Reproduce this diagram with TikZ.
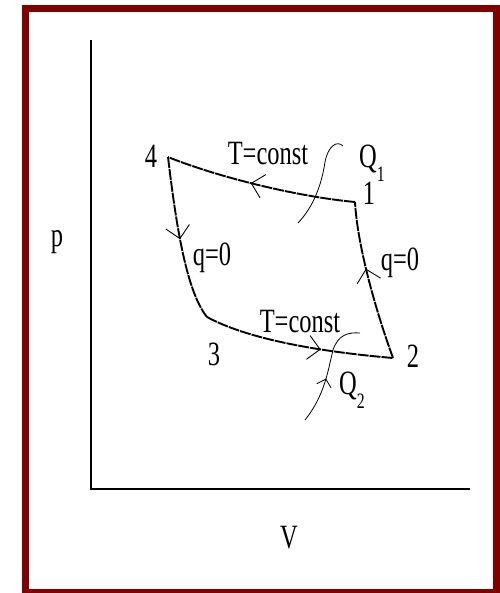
\documentclass[tikz,border=0pt]{standalone}
\usepackage{fontspec}
\setmainfont{Liberation Serif}[FakeStretch=0.72]
\usetikzlibrary{arrows.meta,decorations.markings}
\definecolor{framered}{HTML}{800000}
\newcommand{\heatsub}[1]{\raisebox{-14pt}{\fontsize{22}{22}\selectfont #1}}

\begin{document}
\begin{tikzpicture}[x=1pt,y=-1pt,>=Latex]
  \tikzstyle{axis}=[line width=1.3pt]
  \tikzstyle{process}=[line width=1.9pt,dash pattern=on 11pt off 1pt]
  \tikzstyle{heat}=[line width=0.8pt]
  \tikzstyle{lbl}=[font=\fontsize{34}{34}\selectfont,inner sep=0pt,anchor=base]
  \tikzset{midarrow/.style={postaction={decorate,decoration={markings,mark=at position #1 with {\arrow[line width=0.9pt]{Straight Barb[length=12pt,width=24pt]}}}}}}
  \tikzset{smallarrow/.style={postaction={decorate,decoration={markings,mark=at position #1 with {\arrow[line width=0.8pt]{Straight Barb[length=7pt,width=15pt]}}}}}}
  \useasboundingbox (0,0) rectangle (499,593);
  \draw[framered,line width=7pt] (25,8.5) rectangle (496.5,592.5);
  % axes
  \coordinate (ptop) at (91,40);
  \coordinate (origin) at (91,489);
  \coordinate (vend) at (470,489);
  \draw[axis] (ptop) -- (origin) -- (vend);
  \node[lbl] (plbl) at (57,247) {p};
  \node[lbl] (vlbl) at (289,548) {V};
  % states
  \coordinate (s1) at (355,202);
  \coordinate (s2) at (393,358);
  \coordinate (s3) at (207,317);
  \coordinate (s4) at (168,157);
  \node[lbl] (n1) at (369,205) {1};
  \node[lbl] (n2) at (413,367) {2};
  \node[lbl] (n3) at (214,365) {3};
  \node[lbl] (n4) at (151,168) {4};
  % processes
  \draw[process,midarrow=0.55] (s1) .. controls (300,197) and (220,178) .. (s4);
  \draw[process,midarrow=0.5] (s4) .. controls (175,215) and (185,290) .. (s3);
  \draw[process,midarrow=0.62] (s3) .. controls (240,335) and (300,350) .. (s2);
  \draw[process,midarrow=0.58] (s2) .. controls (372,300) and (357,240) .. (s1);
  \node[lbl] (thot) at (268,165) {T=const};
  \node[lbl] (tcold) at (300,332) {T=const};
  \node[lbl] (adleft) at (212,265) {q=0};
  \node[lbl] (adright) at (400,270) {q=0};
  % heat exchange
  \coordinate (q1a) at (298,223);
  \coordinate (q1b) at (343,146);
  \coordinate (q2a) at (305,420);
  \coordinate (q2b) at (360,333);
  \draw[heat] (q1a) .. controls (315,205) and (322,182) .. (325,162) .. controls (328,146) and (337,140) .. (q1b);
  \draw[heat,smallarrow=0.42] (q2a) .. controls (325,395) and (328,370) .. (333,350) .. controls (338,335) and (348,332) .. (q2b);
  \node[lbl,anchor=base west] (qhot) at (359,168) {Q\heatsub{1}};
  \node[lbl,anchor=base west] (qcold) at (339,394) {Q\heatsub{2}};
\end{tikzpicture}
\end{document}
